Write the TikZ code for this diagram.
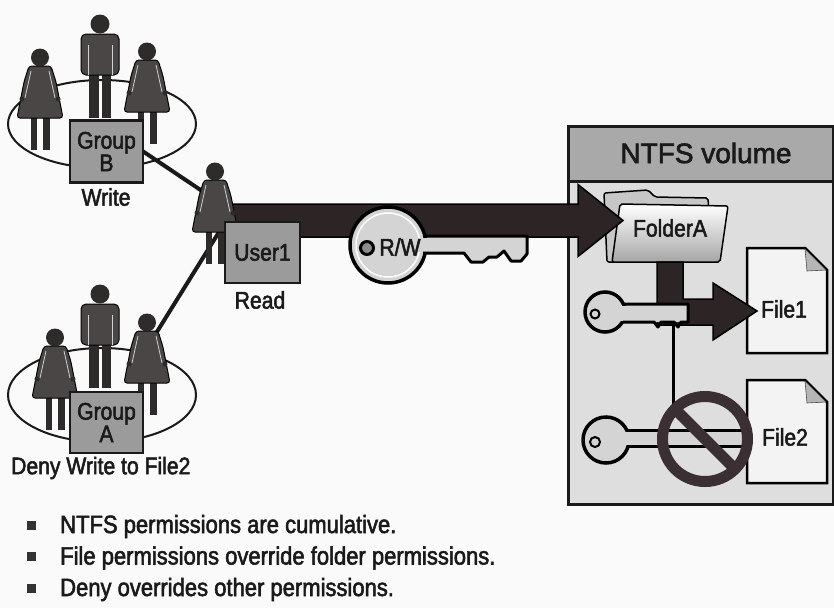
\documentclass[tikz,border=0pt]{standalone}
\usepackage{fontspec}
\setmainfont{Liberation Sans}
\newfontfamily\labelfont[FakeStretch=0.88, FakeBold=2.2]{Liberation Sans}
\newfontfamily\titlefont[FakeBold=2.2]{Liberation Sans}
\usetikzlibrary{shapes.geometric,calc}

\definecolor{pagebg}{HTML}{FAFAFA}
\definecolor{ink}{HTML}{1A1A1A}
\definecolor{personc}{HTML}{4A4646}
\definecolor{legc}{HTML}{2E2B2B}
\definecolor{boxgray}{HTML}{9B9B9B}
\definecolor{arrowc}{HTML}{2D2426}
\definecolor{keyc}{HTML}{D4D4D4}
\definecolor{volhead}{HTML}{A9A9A9}
\definecolor{volbody}{HTML}{DEDEDE}
\definecolor{denyc}{HTML}{3A3034}
\definecolor{docc}{HTML}{F3F3F3}
\definecolor{foldc}{HTML}{B5B5B5}

\tikzset{
  personfill/.style={fill=personc, draw=black, line width=1pt},
  armline/.style={draw=white!65!gray, line width=0.8pt},
  woman/.pic={
    \fill[legc] (-9.5,64) rectangle (-3,102);
    \fill[legc] (3,64) rectangle (9.5,102);
    \draw[personfill, rounded corners=3pt] (-11,18) -- (11,18) -- (16,34) -- (23,70) -- (-23,70) -- (-16,34) -- cycle;
    \draw[armline] (-9,23) -- (-15,50);
    \draw[armline] (9,23) -- (15,50);
    \fill[legc] (-18,51) circle (2.5);
    \fill[legc] (18,51) circle (2.5);
    \fill[legc] (0,9.5) circle (9);
  },
  man/.pic={
    \fill[legc] (-11,54) rectangle (-1.5,103);
    \fill[legc] (1.5,54) rectangle (11,103);
    \draw[personfill, rounded corners=5pt] (-19,60) -- (-19,19) -- (19,19) -- (19,60) -- cycle;
    \draw[armline] (-12,30) -- (-12,60);
    \draw[armline] (12,30) -- (12,60);
    \fill[legc] (0,9) circle (9.5);
  }
}

\begin{document}
\begin{tikzpicture}[x=1pt,y=-1pt,
  lbl/.style={font=\labelfont\fontsize{24}{20}\selectfont, text=ink, inner sep=0pt, align=center},
  ring/.style={ellipse, draw=ink, line width=2pt, inner sep=0pt},
  link/.style={draw=ink, line width=4pt},
  groupbox/.style={rectangle, draw=ink, line width=2.5pt, fill=boxgray, inner sep=0pt,
    minimum width=73pt, minimum height=62pt, align=center, font=\labelfont\fontsize{24}{21}\selectfont, text=ink},
  bigarrow/.style={fill=arrowc, draw=black, line width=1.5pt, line join=miter},
  keyhead/.style={circle, draw=black, line width=3.5pt, fill=keyc, inner sep=0pt},
  keyhole/.style={circle, draw=black, inner sep=0pt},
  keyedge/.style={draw=black, line width=3pt, line join=round},
  doc/.style={fill=docc, draw=black, line width=2.5pt, line join=miter},
  fold/.style={fill=foldc, draw=black!70, line width=0.6pt},
  bulletsq/.style={rectangle, fill=black!80, minimum size=9pt, inner sep=0pt},
  listtxt/.style={font=\labelfont\fontsize{25}{25}\selectfont, text=ink, inner sep=0pt, anchor=base west}
]
\path[fill=pagebg] (0,0) rectangle (834,608);
\useasboundingbox (0,0) rectangle (834,608);

% ---------- NTFS volume panel ----------
\node[rectangle, fill=volbody, draw=ink, line width=2.5pt, minimum width=265pt, minimum height=378pt,
      anchor=north west, inner sep=0pt] (vol) at (567,125) {};
\node[rectangle, fill=volhead, draw=ink, line width=2.5pt, minimum width=265pt, minimum height=55pt,
      anchor=north west, inner sep=0pt] (volHdr) at (567,125) {};
\node[font=\titlefont\fontsize{28}{28}\selectfont, text=ink, inner sep=0pt] (volTitle) at (706,153) {NTFS volume};

% folder
\draw[fill=black!22, draw=black, line width=1.5pt, rounded corners=2pt]
  (607,262) -- (604,193) -- (648,190) -- (655,197) -- (708,198) -- (712,262) -- cycle;
\draw[top color=white, bottom color=black!35, draw=black, line width=1.5pt, rounded corners=2pt]
  (620,204) -- (728,206) -- (720,262) -- (612,262) -- cycle;
\node[lbl] (folderA) at (670,228) {FolderA};

% files
\draw[doc] (747,248) -- (805,248) -- (827,270) -- (827,353) -- (747,353) -- cycle;
\draw[fold] (805,249) -- (807,271) -- (826,270) -- cycle;
\node[lbl] (file1) at (784,309) {File1};
\draw[doc] (747,380) -- (805,380) -- (827,402) -- (827,483) -- (747,483) -- cycle;
\draw[fold] (805,381) -- (807,403) -- (826,402) -- cycle;
\node[lbl] (file2) at (785,437) {File2};

% folder to File1 arrow
\coordinate (stemTop) at (670,262);
\coordinate (file1Tip) at (757,311);
\draw[bigarrow] ($(stemTop)+(-13,0)$) -- ($(stemTop)+(13,0)$) -- ($(file1Tip)+(-74,-12)$)
  -- ($(file1Tip)+(-44,-12)$) -- ($(file1Tip)+(-44,-28)$) -- (file1Tip) -- ($(file1Tip)+(-44,29)$)
  -- ($(file1Tip)+(-44,14)$) -- ($(file1Tip)+(-100,14)$) -- cycle;

% thin tie from the folder key down to the second key
\coordinate (tieTop) at (673,318);
\coordinate (tieBot) at (673,405);
\draw[draw=black, line width=3pt] (tieTop) -- (tieBot);

% key for File1
\fill[keyc] (622,304) -- (688,304) -- (688,322) -- (622,322) -- cycle;
\node[keyhead, minimum size=40pt] (key1) at (605,312) {};
\fill[keyc] (620,305.5) rectangle (630,320.5);
\draw[keyedge] (623,304) -- (688,304) -- (688,322) -- (681,322) -- (678,327) -- (674,322)
  -- (661,322) -- (658,327) -- (654,322) -- (623,322);
\node[keyhole, line width=2pt, minimum size=9pt] (hole1) at (595,314) {};

% key for File2
\fill[keyc] (626,430) rectangle (746,446);
\node[keyhead, minimum size=46pt] (key2) at (606,440) {};
\fill[keyc] (624,431.5) rectangle (634,444.5);
\draw[keyedge] (627,430) -- (746,430) -- (746,446) -- (627,446);
\node[keyhole, line width=2pt, minimum size=10pt] (hole2) at (595,442) {};

% deny sign
\node[circle, draw=denyc, line width=11pt, minimum size=85pt, inner sep=0pt] (deny) at (705,439) {};
\draw[draw=denyc, line width=11pt] ($(deny.center)+(-31,-31)$) -- ($(deny.center)+(31,31)$);

% ---------- Group B ----------
\node[ring, minimum width=188pt, minimum height=88pt] (ringB) at (102,124) {};
% ---------- Group A ----------
\node[ring, minimum width=188pt, minimum height=94pt] (ringA) at (102,395) {};

% ties from the groups to User1
\coordinate (bTie) at (138,148);
\coordinate (u1Neck) at (214,199);
\coordinate (aTie) at (150,343);
\coordinate (u1Hip) at (219,232);
\draw[link] (bTie) -- (u1Neck);
\draw[link] (aTie) -- (u1Hip);

\pic at (40,48) {woman};
\pic at (100,15) {man};
\pic at (147,42) {woman};
\node[groupbox] (gB) at (106.5,151.5) {Group\\B};
\node[lbl] (writeB) at (106,197) {Write};

\pic at (55,328) {woman};
\pic at (100,285) {man};
\pic at (147,313) {woman};
\node[groupbox, minimum height=61pt] (gA) at (106.5,422.5) {Group\\A};
\node[lbl, anchor=west] (denyA) at (11,468) {Deny Write to File2};

% ---------- User1 to FolderA ----------
\coordinate (bigTail) at (225,220.5);
\coordinate (bigTip) at (623,220.5);
\draw[bigarrow] ($(bigTail)+(0,-16.5)$) -- ($(bigTip)+(-45,-16.5)$) -- ($(bigTip)+(-45,-36)$)
  -- (bigTip) -- ($(bigTip)+(-45,36)$) -- ($(bigTip)+(-45,16.5)$) -- ($(bigTail)+(0,16.5)$) -- cycle;

\pic at (215,162) {woman};
\node[groupbox, minimum width=75pt, minimum height=61pt] (u1) at (262.5,252.5) {User1};
\node[lbl] (readU) at (260,300) {Read};

% read/write key
\fill[keyc] (420,236) -- (527,236) -- (527,254) -- (521,261) -- (511,261) -- (504,251) -- (497,257)
  -- (489,257) -- (483,262) -- (471,262) -- (464,253) -- (420,253) -- cycle;
\node[keyhead, minimum size=76pt] (rwKey) at (388,245) {};
\draw[draw=white, line width=1.5pt] (rwKey.center) circle (32);
\fill[keyc] (418,237.5) rectangle (430,251.5);
\draw[keyedge] (423,236) -- (527,236) -- (527,254) -- (521,261) -- (511,261) -- (504,251) -- (497,257)
  -- (489,257) -- (483,262) -- (471,262) -- (464,253) -- (423,253);
\node[keyhole, line width=3pt, fill=black!45, minimum size=13pt] (rwHole) at (367,248) {};
\node[lbl] (rwLbl) at (400,247) {R/W};

% ---------- notes ----------
\node[bulletsq] (b1) at (31,525) {};
\node[bulletsq] (b2) at (31,556.5) {};
\node[bulletsq] (b3) at (31,588) {};
\node[listtxt] (t1) at (60,533) {NTFS permissions are cumulative.};
\node[listtxt] (t2) at (60,564.5) {File permissions override folder permissions.};
\node[listtxt] (t3) at (60,596) {Deny overrides other permissions.};
\end{tikzpicture}
\end{document}
